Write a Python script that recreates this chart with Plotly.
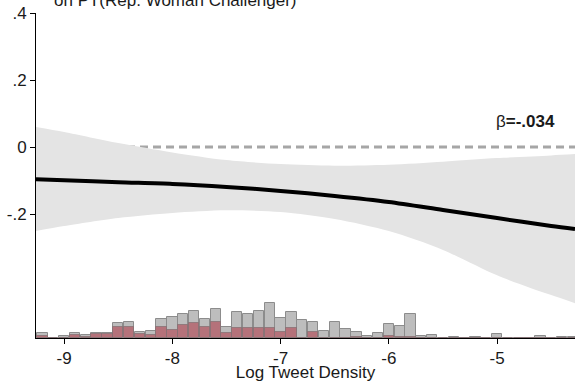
import plotly.graph_objects as go

# Marginal effect of log tweet density (point estimate and 95% band)
x_grid = [-9.26, -9.0, -8.5, -8.0, -7.5, -7.0, -6.5, -6.0, -5.5, -5.0, -4.5, -4.28]
effect = [-0.096, -0.099, -0.105, -0.110, -0.119, -0.131, -0.146, -0.164, -0.188, -0.212, -0.236, -0.245]
ci_upper = [0.060, 0.045, 0.012, -0.016, -0.039, -0.051, -0.056, -0.053, -0.044, -0.033, -0.025, -0.021]
ci_lower = [-0.251, -0.236, -0.212, -0.197, -0.189, -0.194, -0.215, -0.251, -0.307, -0.383, -0.442, -0.466]

# Distribution of log tweet density (all races vs. races with a woman challenger)
bin_centers = [-9.2, -9.1, -9.0, -8.9, -8.8, -8.7, -8.6, -8.5, -8.4, -8.3,
               -8.2, -8.1, -8.0, -7.9, -7.8, -7.7, -7.6, -7.5, -7.4, -7.3,
               -7.2, -7.1, -7.0, -6.9, -6.8, -6.7, -6.6, -6.5, -6.4, -6.3,
               -6.2, -6.1, -6.0, -5.9, -5.8, -5.7, -5.6, -5.5, -5.4, -5.3,
               -5.2, -5.1, -5.0, -4.9, -4.8, -4.7, -4.6, -4.5, -4.4, -4.3]
freq_all = [5, 0, 2, 5, 3, 5, 5, 15, 16, 6,
            7, 19, 21, 24, 27, 19, 29, 11, 26, 24,
            27, 35, 20, 26, 18, 16, 7, 16, 9, 6,
            2, 5, 14, 12, 24, 2, 3, 0, 1.5, 0,
            1.5, 0, 4, 0, 0, 0, 2.5, 0, 1.5, 1.5]
freq_woman = [2, 0, 0.5, 3, 1, 4, 4, 11, 11, 4,
              3, 11, 8, 13, 15, 11, 16, 5, 10, 10,
              10, 10, 6, 10, 0, 6, 0, 0, 0, 1.5,
              0, 0, 2, 1.5, 1.5, 0, 0, 0, 0, 0,
              0, 0, 0, 0, 0, 0, 0, 0, 0, 0]

x_ticks = [-9, -8, -7, -6, -5]
y_ticks = [0.4, 0.2, 0, -0.2]
y_tick_text = [".4", ".2", "0", "-.2"]
beta_label = "β<b>=-.034</b>"

FONT = "Liberation Sans, Arial, Helvetica, sans-serif"
FS = 17
x_range = [-9.26, -4.28]

fig = go.Figure()

# zero reference line (sits under the confidence band)
fig.add_trace(go.Scatter(
    x=x_range, y=[0, 0], mode="lines",
    line=dict(color="#a6a6a6", width=3, dash="8px,5px"),
    hoverinfo="skip", showlegend=False))

# confidence band
fig.add_trace(go.Scatter(
    x=x_grid, y=ci_lower, mode="lines",
    line=dict(width=0, shape="spline", smoothing=0.8),
    hoverinfo="skip", showlegend=False))
fig.add_trace(go.Scatter(
    x=x_grid, y=ci_upper, mode="lines",
    line=dict(width=0, shape="spline", smoothing=0.8),
    fill="tonexty", fillcolor="#e4e4e4", hoverinfo="skip", showlegend=False))

# point estimate
fig.add_trace(go.Scatter(
    x=x_grid, y=effect, mode="lines",
    line=dict(color="black", width=4, shape="spline", smoothing=0.8),
    showlegend=False))

# histograms on a hidden secondary axis
fig.add_trace(go.Bar(
    x=bin_centers, y=freq_all, width=0.095, yaxis="y2",
    marker=dict(color="#bdbdbd", line=dict(color="#8c8c8c", width=1)),
    showlegend=False))
fig.add_trace(go.Bar(
    x=bin_centers, y=freq_woman, width=0.095, yaxis="y2",
    marker=dict(color="#b5727a", line=dict(color="rgba(130,110,112,0.7)", width=1)),
    showlegend=False))

fig.update_layout(
    width=575, height=382,
    margin=dict(l=36, r=0, t=13, b=44),
    paper_bgcolor="white", plot_bgcolor="white",
    barmode="overlay", bargap=0,
    font=dict(family=FONT, size=FS, color="#1a1a1a"),
    xaxis=dict(
        range=x_range, tickvals=x_ticks, ticktext=[str(v) for v in x_ticks],
        showgrid=False, zeroline=False, showline=True, linecolor="black", linewidth=1,
        ticks="outside", ticklen=5, tickcolor="black",
        tickfont=dict(size=FS),
        title=dict(text="Log Tweet Density", font=dict(size=FS), standoff=0)),
    yaxis=dict(
        range=[-0.57, 0.4], tickvals=y_ticks, ticktext=y_tick_text,
        showgrid=False, zeroline=False, showline=True, linecolor="black", linewidth=1,
        ticks="outside", ticklen=5, tickcolor="black",
        tickfont=dict(size=FS)),
    yaxis2=dict(range=[0, 325], overlaying="y", visible=False),
    annotations=[
        dict(text="on PT(Rep. Woman Challenger)", xref="paper", yref="paper",
             x=0.0297, y=1.003, xanchor="left", yanchor="bottom",
             showarrow=False, font=dict(size=FS, color="#1a1a1a")),
        dict(text=beta_label, xref="paper", yref="y",
             x=0.967, y=0.075, xanchor="right", yanchor="middle",
             showarrow=False, font=dict(size=FS, color="#1a1a1a")),
    ],
)

fig.write_html("out.html")
